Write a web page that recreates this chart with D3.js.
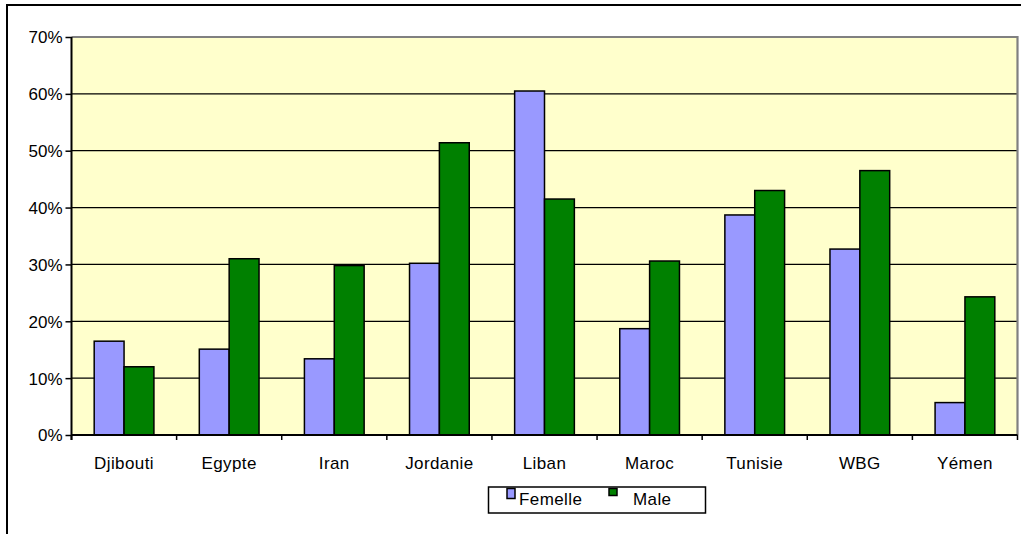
<!DOCTYPE html>
<html>
<head>
<meta charset="utf-8">
<script src="https://cdn.jsdelivr.net/npm/d3@7"></script>
<style>
  html, body { margin: 0; padding: 0; background: #fff; }
  svg { display: block; font-family: "Liberation Sans", Arial, sans-serif; }
</style>
</head>
<body>
<svg id="chart" width="1021" height="534"></svg>
<script>
// Share (%) by country, female and male
const categories = ["Djibouti", "Egypte", "Iran", "Jordanie", "Liban", "Maroc", "Tunisie", "WBG", "Yémen"];
const femelle = [16.5, 15.1, 13.4, 30.2, 60.5, 18.7, 38.7, 32.7, 5.7];
const male    = [12.0, 31.0, 29.8, 51.4, 41.5, 30.6, 43.0, 46.5, 24.3];
const seriesNames = ["Femelle", "Male"];
const seriesColors = ["#9999FF", "#008000"];
const yTicks = [0, 10, 20, 30, 40, 50, 60, 70];

const svg = d3.select("#chart");
const plot = { left: 71.5, right: 1017.5, top: 37, bottom: 435 };

// Outer chart frame
svg.append("rect")
  .attr("x", 7).attr("y", 5).attr("width", 1030).attr("height", 560)
  .attr("fill", "none").attr("stroke", "#000").attr("stroke-width", 2);

const x0 = d3.scaleBand().domain(categories).range([plot.left, plot.right]).paddingInner(0).paddingOuter(0);
const x1 = d3.scaleBand().domain(seriesNames).range([0, x0.bandwidth()]).paddingInner(0).paddingOuter(0.76);
const y = d3.scaleLinear().domain([0, 70]).range([plot.bottom, plot.top]);

// Plot background
svg.append("rect")
  .attr("x", plot.left).attr("y", plot.top)
  .attr("width", plot.right - plot.left).attr("height", plot.bottom - plot.top)
  .attr("fill", "#FFFFCC");

// Horizontal gridlines
svg.append("g")
  .selectAll("line")
  .data(yTicks.filter(t => t > 0 && t < 70))
  .join("line")
  .attr("x1", plot.left).attr("x2", plot.right)
  .attr("y1", d => y(d)).attr("y2", d => y(d))
  .attr("stroke", "#000").attr("stroke-width", 1.3);

// Grey top and right border of the plot area
svg.append("path")
  .attr("d", `M${plot.left},${y(70)}H${plot.right}V${plot.bottom}`)
  .attr("fill", "none").attr("stroke", "#808080").attr("stroke-width", 2.2);

// Bars
const rows = categories.map((c, i) => ({ cat: c, vals: [femelle[i], male[i]] }));
svg.append("g")
  .selectAll("g")
  .data(rows)
  .join("g")
  .attr("transform", d => `translate(${x0(d.cat)},0)`)
  .selectAll("rect")
  .data(d => d.vals.map((v, j) => ({ name: seriesNames[j], v, color: seriesColors[j] })))
  .join("rect")
  .attr("x", d => x1(d.name))
  .attr("width", x1.bandwidth())
  .attr("y", d => y(d.v))
  .attr("height", d => y(0) - y(d.v))
  .attr("fill", d => d.color)
  .attr("stroke", "#000").attr("stroke-width", 1.5);

// Y axis
const yAxis = d3.axisLeft(y)
  .tickValues(yTicks)
  .tickFormat(d => d + "%")
  .tickSize(6)
  .tickPadding(3);
const gy = svg.append("g").attr("transform", `translate(${plot.left},0)`).call(yAxis);
gy.select(".domain").attr("stroke", "#000").attr("stroke-width", 2)
  .attr("d", `M0,${plot.top}V${plot.bottom + 5}`);
gy.selectAll(".tick line").attr("stroke", "#000").attr("stroke-width", 1.5);
gy.selectAll(".tick text")
  .attr("fill", "#000")
  .style("font-size", "17px")
  .attr("dy", "0.35em");

// X axis: ticks at category boundaries
const boundaries = categories.map(c => x0(c)).concat([plot.right]);
const gx = svg.append("g");
gx.append("line")
  .attr("x1", plot.left).attr("x2", plot.right)
  .attr("y1", plot.bottom).attr("y2", plot.bottom)
  .attr("stroke", "#000").attr("stroke-width", 2);
gx.selectAll("line.tk")
  .data(boundaries)
  .join("line")
  .attr("class", "tk")
  .attr("x1", d => d).attr("x2", d => d)
  .attr("y1", plot.bottom).attr("y2", plot.bottom + 5)
  .attr("stroke", "#000").attr("stroke-width", 1.5);
gx.selectAll("text")
  .data(categories)
  .join("text")
  .attr("x", d => x0(d) + x0.bandwidth() / 2)
  .attr("y", 469)
  .attr("text-anchor", "middle")
  .style("font-size", "17px")
  .style("letter-spacing", "0.4px")
  .attr("fill", "#000")
  .text(d => d);

// Legend
const lg = svg.append("g");
lg.append("rect")
  .attr("x", 488.5).attr("y", 487).attr("width", 217).attr("height", 26)
  .attr("fill", "#fff").attr("stroke", "#000").attr("stroke-width", 1.5);
const legendItems = [
  { name: seriesNames[0], color: seriesColors[0], sx: 507, sw: 8, sh: 10, tx: 519 },
  { name: seriesNames[1], color: seriesColors[1], sx: 609, sw: 8, sh: 7, tx: 633 }
];
lg.selectAll("rect.sw")
  .data(legendItems)
  .join("rect")
  .attr("class", "sw")
  .attr("x", d => d.sx).attr("y", 488.5)
  .attr("width", d => d.sw).attr("height", d => d.sh)
  .attr("fill", d => d.color).attr("stroke", "#000").attr("stroke-width", 1.5);
lg.selectAll("text")
  .data(legendItems)
  .join("text")
  .attr("x", d => d.tx).attr("y", 505)
  .style("font-size", "17px")
  .style("letter-spacing", "0.4px")
  .attr("fill", "#000")
  .text(d => d.name);
</script>
</body>
</html>
